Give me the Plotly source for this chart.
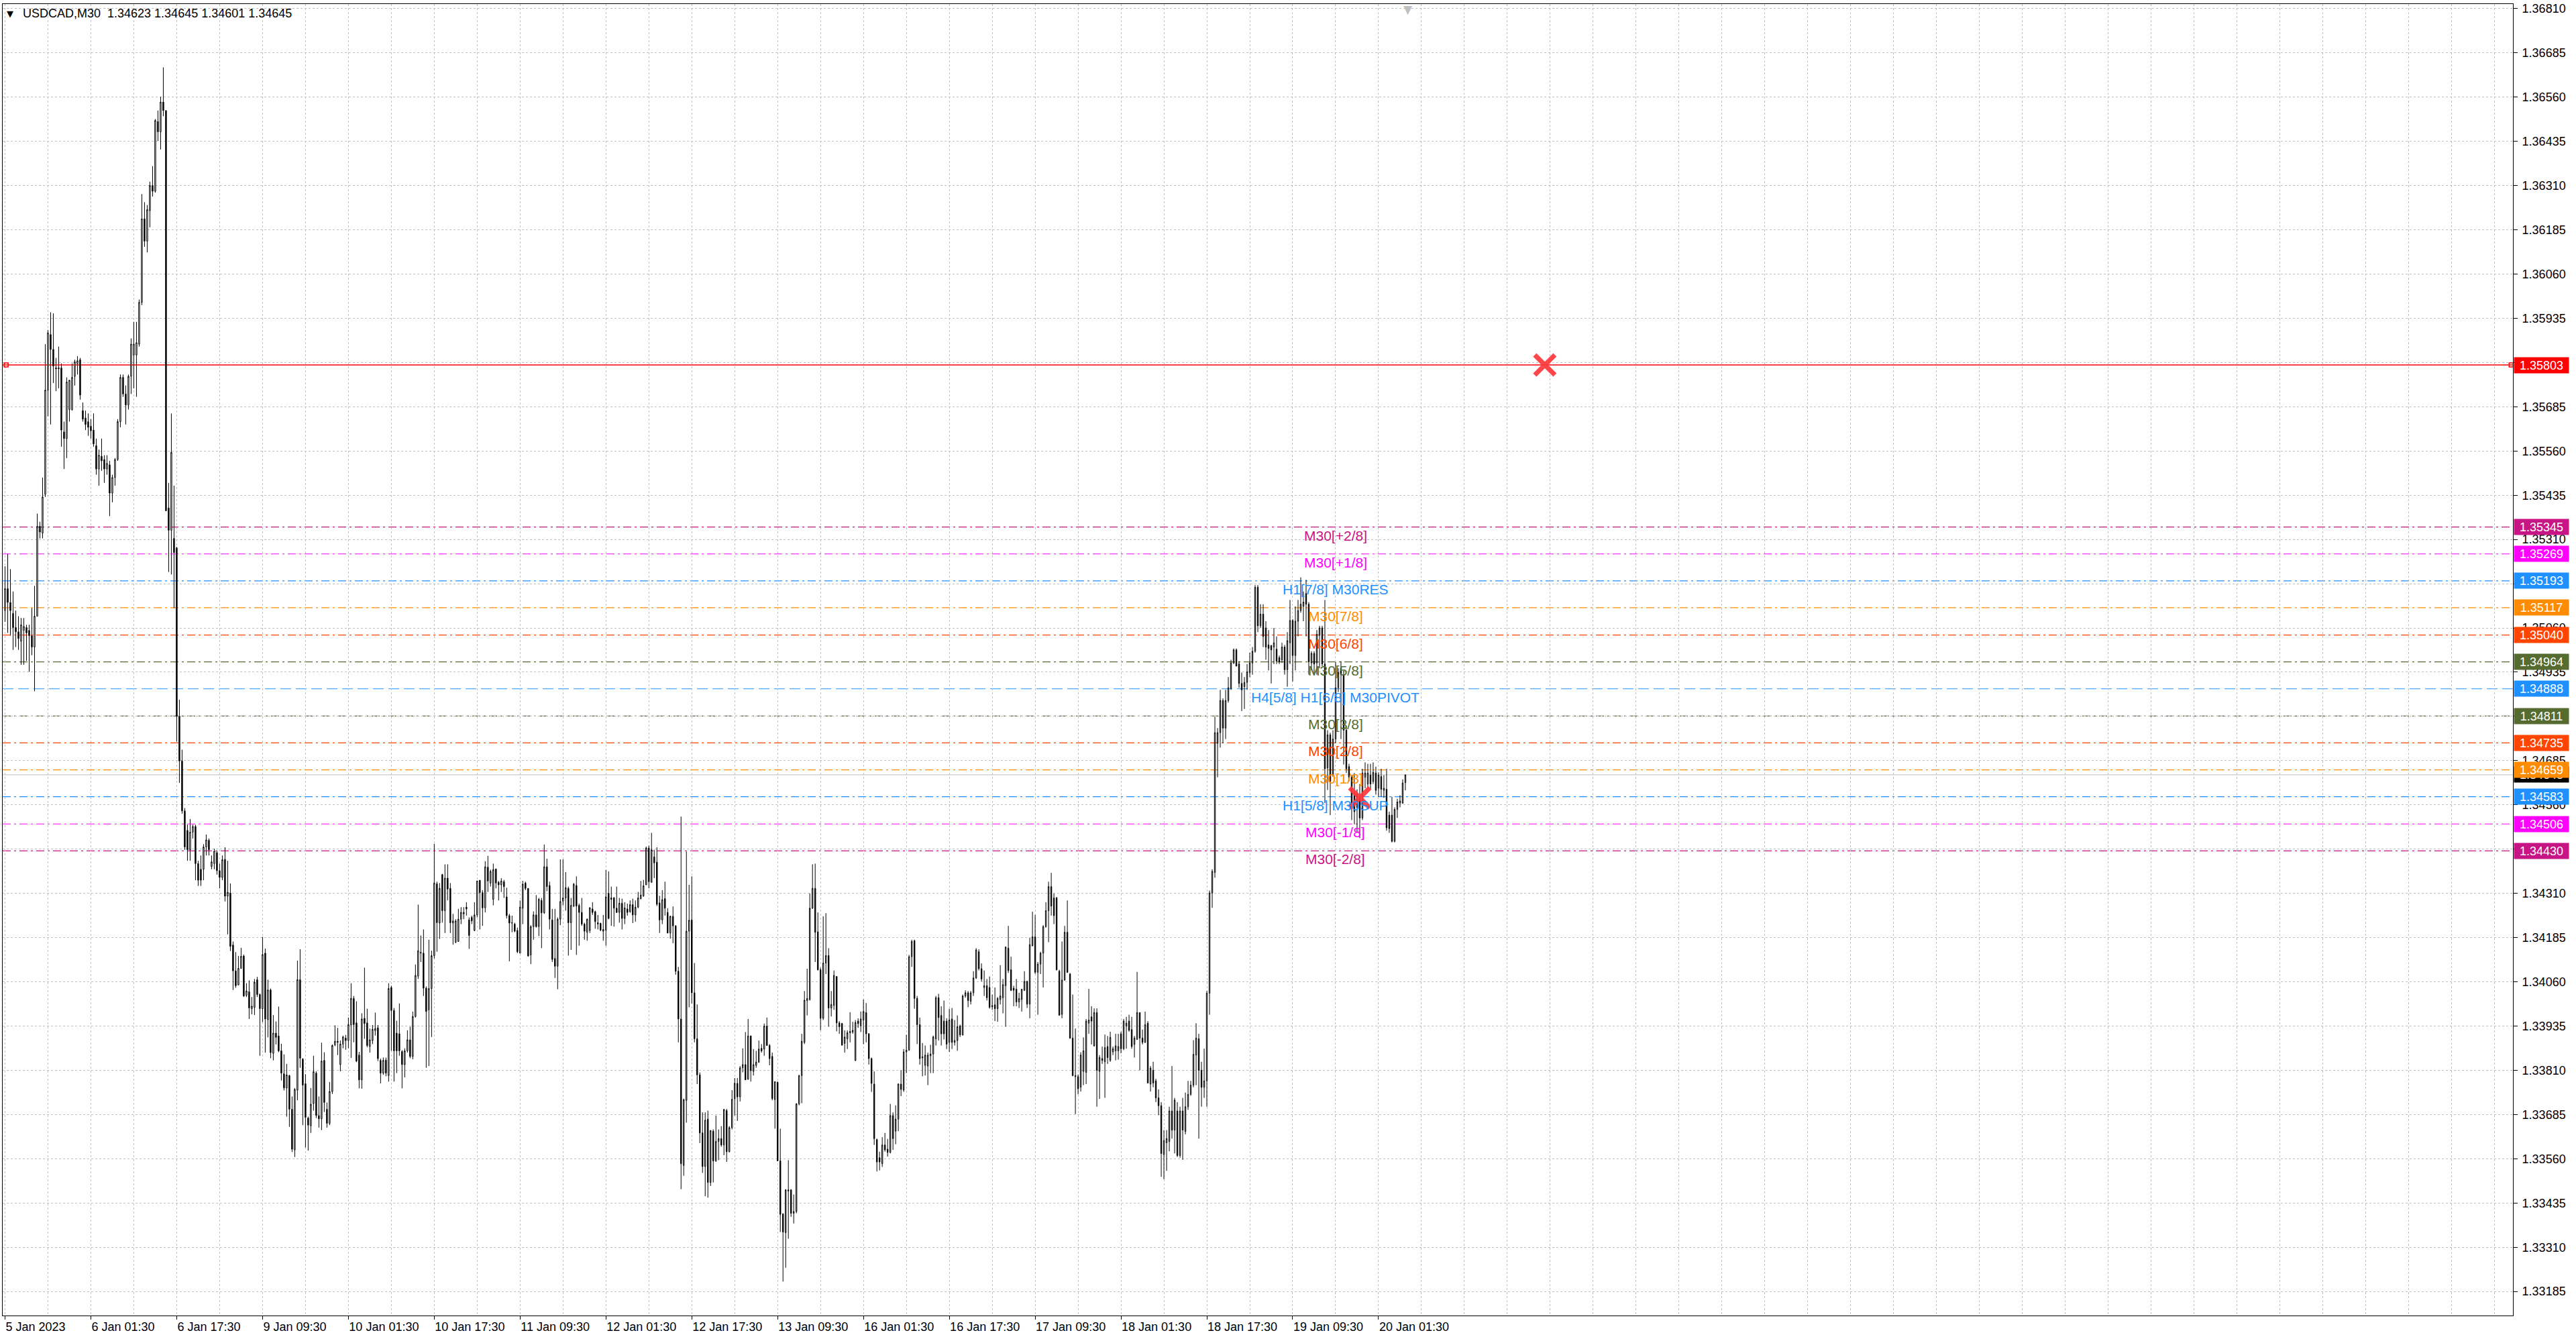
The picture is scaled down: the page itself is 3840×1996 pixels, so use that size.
import plotly.graph_objects as go

# ---------------- data (USDCAD M30) ----------------
open_ = [
1.35109,1.35171,1.35132,1.35101,1.35061,1.35049,1.35022,1.35053,1.35061,1.35053,
1.35038,1.35006,1.35093,1.35347,1.35328,1.35438,1.35732,1.35889,1.35847,1.35795,
1.35795,1.35795,1.35614,1.35595,1.35677,1.35677,1.35771,1.35807,1.35818,1.35674,
1.35653,1.35643,1.35630,1.35619,1.35575,1.35509,1.35545,1.35536,1.35509,1.35521,
1.35441,1.35485,1.35536,1.35643,1.35768,1.35721,1.35690,1.35771,1.35831,1.35831,
1.35862,1.35980,1.36216,1.36153,1.36239,1.36310,1.36294,1.36491,1.36462,1.36546,
1.36522,1.35399,1.35336,1.35313,1.35286,1.34810,1.34684,1.34543,1.34488,1.34433,
1.34483,1.34499,1.34394,1.34378,1.34378,1.34441,1.34460,1.34386,1.34394,1.34425,
1.34374,1.34355,1.34406,1.34302,1.34311,1.34164,1.34091,1.34051,1.34098,1.34133,
1.34022,1.34032,1.33984,1.33988,1.34066,1.34024,1.33984,1.34141,1.33953,1.34037,
1.33858,1.33915,1.33907,1.33865,1.33800,1.33760,1.33795,1.33700,1.33585,1.33754,
1.34066,1.33842,1.33772,1.33675,1.33653,1.33716,1.33802,1.33682,1.33673,1.33838,
1.33700,1.33660,1.33750,1.33882,1.33892,1.33826,1.33884,1.33901,1.33894,1.33938,
1.34013,1.33944,1.33853,1.33783,1.33957,1.33944,1.33877,1.33894,1.33922,1.33930,
1.33838,1.33802,1.33839,1.33795,1.34044,1.33979,1.33915,1.33913,1.33863,1.33826,
1.33865,1.33896,1.33849,1.33962,1.34076,1.34141,1.34141,1.34042,1.33981,1.34041,
1.34134,1.34337,1.34226,1.34363,1.34261,1.34353,1.34324,1.34226,1.34172,1.34174,
1.34237,1.34252,1.34271,1.34235,1.34242,1.34205,1.34249,1.34347,1.34312,1.34269,
1.34384,1.34339,1.34293,1.34379,1.34341,1.34334,1.34343,1.34300,1.34247,1.34227,
1.34223,1.34205,1.34141,1.34268,1.34339,1.34324,1.34136,1.34216,1.34249,1.34216,
1.34290,1.34255,1.34385,1.34332,1.34235,1.34126,1.34104,1.34237,1.34288,1.34297,
1.34324,1.34227,1.34274,1.34332,1.34276,1.34256,1.34223,1.34200,1.34205,1.34266,
1.34258,1.34223,1.34225,1.34203,1.34206,1.34310,1.34297,1.34297,1.34268,1.34256,
1.34282,1.34239,1.34266,1.34258,1.34278,1.34249,1.34271,1.34295,1.34303,1.34334,
1.34438,1.34341,1.34413,1.34398,1.34283,1.34235,1.34295,1.34256,1.34198,1.34245,
1.34218,1.34090,1.33955,1.33541,1.33725,1.34203,1.34235,1.34029,1.33899,1.33797,
1.33633,1.33538,1.33672,1.33493,1.33638,1.33554,1.33609,1.33617,1.33599,1.33696,
1.33580,1.33648,1.33730,1.33773,1.33735,1.33817,1.33826,1.33785,1.33907,1.33807,
1.33824,1.33833,1.33872,1.33870,1.33935,1.33880,1.33849,1.33727,1.33776,1.33554,
1.33404,1.33351,1.33472,1.33472,1.33406,1.33411,1.33715,1.33795,1.33889,1.34007,
1.34010,1.34268,1.34324,1.34201,1.34094,1.33957,1.34113,1.34134,1.33986,1.33993,
1.34075,1.33944,1.33942,1.33886,1.33899,1.33916,1.33918,1.33838,1.33949,1.33936,
1.33952,1.33973,1.33913,1.33843,1.33771,1.33614,1.33563,1.33546,1.33599,1.33587,
1.33578,1.33682,1.33638,1.33672,1.33771,1.33754,1.33862,1.33867,1.34131,1.34176,
1.34013,1.33939,1.33845,1.33824,1.33822,1.33851,1.33856,1.33899,1.34015,1.33965,
1.33949,1.33949,1.33889,1.33955,1.33889,1.33894,1.33935,1.33910,1.34020,1.34029,
1.34005,1.34029,1.34071,1.34145,1.34097,1.34044,1.34049,1.34044,1.33993,1.33995,
1.33984,1.34010,1.34015,1.34049,1.34155,1.34094,1.34042,1.34039,1.34003,1.34010,
1.34036,1.34061,1.33997,1.34162,1.34187,1.34087,1.34110,1.34141,1.34216,1.34261,
1.34329,1.34297,1.34297,1.34090,1.33968,1.34065,1.34200,1.34082,1.33901,1.33792,
1.33792,1.33762,1.33807,1.33804,1.33943,1.33961,1.33879,1.33973,1.33807,1.33843,
1.33834,1.33877,1.33838,1.33862,1.33865,1.33865,1.33913,1.33871,1.33935,1.33949,
1.33925,1.33883,1.33897,1.33973,1.33901,1.33889,1.33943,1.33771,1.33810,1.33780,
1.33732,1.33710,1.33572,1.33605,1.33609,1.33695,1.33641,1.33695,1.33569,1.33695,
1.33637,1.33707,1.33742,1.33768,1.33853,1.33899,1.33810,1.33762,1.33780,1.34028,
1.34311,1.34369,1.34734,1.34764,1.34855,1.34777,1.34855,1.34889,1.34961,1.34998,
1.34958,1.34903,1.34894,1.34906,1.34934,1.34961,1.34994,1.35175,1.35066,1.35099,
1.35060,1.35012,1.35010,1.35006,1.35000,1.34976,1.34970,1.35006,1.34942,1.35018,
1.35081,1.34982,1.35079,1.35109,1.35121,1.35157,1.35127,1.34961,1.34988,1.34961,
1.35039,1.35060,1.34958,1.34664,1.34758,1.34644,1.34746,1.34891,1.34946,1.34928,
1.34771,1.34668,1.34638,1.34595,1.34553,1.34583,1.34523,1.34638,1.34619,1.34644,
1.34626,1.34650,1.34607,1.34640,1.34601,1.34604,1.34531,1.34531,1.34457,1.34547,
1.34565,1.34565,1.34623]

high = [
1.35234,1.35269,1.35226,1.35163,1.35109,1.35093,1.35088,1.35088,1.35069,1.35069,
1.35116,1.35179,1.35383,1.35360,1.35485,1.35862,1.35902,1.35952,1.35949,1.35823,
1.35855,1.35807,1.35643,1.35768,1.35760,1.35807,1.35818,1.35828,1.35823,1.35697,
1.35674,1.35666,1.35650,1.35666,1.35595,1.35564,1.35595,1.35548,1.35548,1.35532,
1.35493,1.35540,1.35650,1.35776,1.35776,1.35745,1.35776,1.35878,1.35925,1.35925,
1.35988,1.36286,1.36263,1.36255,1.36321,1.36365,1.36498,1.36522,1.36561,1.36644,
1.36522,1.35470,1.35666,1.35462,1.35289,1.34857,1.34716,1.34551,1.34504,1.34520,
1.34504,1.34504,1.34402,1.34417,1.34449,1.34476,1.34465,1.34417,1.34436,1.34429,
1.34394,1.34417,1.34440,1.34402,1.34338,1.34174,1.34144,1.34133,1.34156,1.34137,
1.34056,1.34064,1.34017,1.34068,1.34074,1.34027,1.34187,1.34154,1.34066,1.34041,
1.33966,1.33948,1.33990,1.33885,1.33855,1.33828,1.33797,1.33736,1.33760,1.34120,
1.34152,1.33844,1.33799,1.33679,1.33760,1.33851,1.33807,1.33736,1.33888,1.33861,
1.33719,1.33777,1.33883,1.33937,1.33930,1.33894,1.33908,1.33910,1.33959,1.34056,
1.34020,1.34005,1.33862,1.33971,1.34100,1.33984,1.33928,1.33938,1.33973,1.33938,
1.33843,1.33846,1.33846,1.34056,1.34049,1.33986,1.33950,1.33999,1.33867,1.33872,
1.33923,1.33933,1.33976,1.34109,1.34278,1.34191,1.34208,1.34047,1.34179,1.34148,
1.34450,1.34343,1.34339,1.34365,1.34392,1.34392,1.34339,1.34252,1.34237,1.34266,
1.34271,1.34271,1.34285,1.34242,1.34247,1.34285,1.34345,1.34347,1.34319,1.34401,
1.34416,1.34377,1.34394,1.34379,1.34345,1.34353,1.34348,1.34326,1.34252,1.34247,
1.34227,1.34213,1.34290,1.34345,1.34343,1.34324,1.34220,1.34259,1.34305,1.34297,
1.34297,1.34448,1.34408,1.34343,1.34266,1.34266,1.34242,1.34406,1.34406,1.34370,
1.34329,1.34297,1.34339,1.34358,1.34281,1.34297,1.34227,1.34239,1.34271,1.34285,
1.34261,1.34249,1.34227,1.34249,1.34376,1.34372,1.34329,1.34300,1.34329,1.34297,
1.34295,1.34285,1.34281,1.34290,1.34295,1.34290,1.34314,1.34345,1.34348,1.34442,
1.34445,1.34481,1.34433,1.34440,1.34303,1.34319,1.34343,1.34268,1.34247,1.34273,
1.34220,1.34102,1.34527,1.33730,1.34428,1.34334,1.34358,1.34113,1.33996,1.33804,
1.33691,1.33691,1.33696,1.33640,1.33643,1.33682,1.33643,1.33652,1.33701,1.33701,
1.33652,1.33754,1.33788,1.33788,1.33822,1.33872,1.33918,1.33955,1.33908,1.33870,
1.33865,1.33894,1.33884,1.33942,1.33959,1.33884,1.33860,1.33778,1.33778,1.33645,
1.33406,1.33474,1.33556,1.33474,1.33459,1.33717,1.33797,1.33913,1.34034,1.34097,
1.34310,1.34392,1.34394,1.34256,1.34100,1.34245,1.34254,1.34155,1.34034,1.34092,
1.34076,1.33949,1.33944,1.33923,1.33923,1.33974,1.33947,1.33952,1.33957,1.33976,
1.34010,1.34000,1.33915,1.33846,1.33807,1.33617,1.33580,1.33621,1.33633,1.33616,
1.33715,1.33691,1.33711,1.33773,1.33810,1.33870,1.33910,1.34136,1.34179,1.34179,
1.34020,1.33959,1.33887,1.33880,1.33860,1.33882,1.33908,1.34020,1.34026,1.33991,
1.34007,1.33957,1.33984,1.33986,1.33952,1.33965,1.33939,1.34024,1.34036,1.34034,
1.34034,1.34090,1.34155,1.34152,1.34112,1.34092,1.34068,1.34075,1.34024,1.34044,
1.34017,1.34107,1.34068,1.34160,1.34218,1.34131,1.34049,1.34068,1.34029,1.34039,
1.34090,1.34063,1.34184,1.34258,1.34249,1.34116,1.34145,1.34220,1.34285,1.34343,
1.34368,1.34310,1.34300,1.34094,1.34174,1.34218,1.34290,1.34085,1.34024,1.33928,
1.33798,1.33861,1.33903,1.33955,1.34040,1.33991,1.33985,1.33985,1.33853,1.33877,
1.33911,1.33907,1.33919,1.33877,1.33913,1.33913,1.33919,1.33955,1.33961,1.33967,
1.33961,1.33907,1.34088,1.33973,1.33925,1.33976,1.33949,1.33822,1.33834,1.33786,
1.33756,1.33720,1.33641,1.33641,1.33707,1.33822,1.33732,1.33720,1.33707,1.33732,
1.33747,1.33780,1.33780,1.33895,1.33943,1.33913,1.33834,1.33871,1.34034,1.34318,
1.34378,1.34809,1.34777,1.34885,1.34861,1.34885,1.34921,1.34970,1.35002,1.35002,
1.34966,1.34934,1.34921,1.34958,1.34990,1.35006,1.35181,1.35181,1.35127,1.35127,
1.35079,1.35054,1.35012,1.35060,1.35036,1.34982,1.35018,1.35012,1.35048,1.35139,
1.35085,1.35121,1.35139,1.35203,1.35163,1.35196,1.35133,1.34994,1.34994,1.35054,
1.35066,1.35066,1.35139,1.34771,1.34764,1.34771,1.34964,1.34946,1.34966,1.34940,
1.34783,1.34676,1.34644,1.34650,1.34604,1.34619,1.34662,1.34680,1.34676,1.34676,
1.34680,1.34668,1.34652,1.34662,1.34644,1.34662,1.34541,1.34583,1.34553,1.34577,
1.34587,1.34632,1.34645]

low = [
1.35077,1.35046,1.35038,1.34998,1.35006,1.34998,1.34956,1.34956,1.34967,1.34936,
1.34983,1.34881,1.35093,1.35313,1.35313,1.35430,1.35658,1.35635,1.35752,1.35729,
1.35737,1.35572,1.35509,1.35540,1.35643,1.35674,1.35745,1.35776,1.35705,1.35643,
1.35619,1.35603,1.35595,1.35572,1.35493,1.35462,1.35504,1.35470,1.35493,1.35376,
1.35415,1.35462,1.35532,1.35627,1.35713,1.35635,1.35677,1.35721,1.35737,1.35713,
1.35855,1.35972,1.36137,1.36121,1.36192,1.36279,1.36290,1.36436,1.36412,1.36506,
1.35391,1.35218,1.35211,1.35116,1.34739,1.34622,1.34535,1.34433,1.34402,1.34402,
1.34465,1.34347,1.34331,1.34331,1.34347,1.34417,1.34417,1.34378,1.34378,1.34363,
1.34324,1.34347,1.34287,1.34194,1.34147,1.34037,1.34043,1.34051,1.34098,1.34017,
1.34017,1.33955,1.33968,1.33966,1.34017,1.33851,1.33946,1.33860,1.33903,1.33844,
1.33838,1.33883,1.33861,1.33781,1.33753,1.33679,1.33650,1.33579,1.33565,1.33725,
1.33817,1.33655,1.33592,1.33583,1.33633,1.33696,1.33675,1.33648,1.33641,1.33692,
1.33648,1.33655,1.33743,1.33878,1.33853,1.33807,1.33872,1.33868,1.33872,1.33845,
1.33889,1.33833,1.33759,1.33758,1.33899,1.33875,1.33860,1.33884,1.33908,1.33836,
1.33773,1.33797,1.33793,1.33778,1.33865,1.33778,1.33802,1.33851,1.33759,1.33790,
1.33860,1.33844,1.33841,1.33959,1.34068,1.34116,1.34020,1.33817,1.33822,1.33904,
1.34126,1.34145,1.34181,1.34227,1.34198,1.34290,1.34198,1.34165,1.34169,1.34174,
1.34223,1.34237,1.34247,1.34153,1.34223,1.34203,1.34242,1.34208,1.34218,1.34256,
1.34314,1.34329,1.34276,1.34324,1.34290,1.34314,1.34297,1.34239,1.34118,1.34200,
1.34200,1.34141,1.34141,1.34223,1.34319,1.34131,1.34110,1.34179,1.34213,1.34189,
1.34155,1.34252,1.34316,1.34208,1.34116,1.34071,1.34039,1.34220,1.34276,1.34261,
1.34134,1.34150,1.34271,1.34136,1.34162,1.34218,1.34179,1.34176,1.34198,1.34249,
1.34210,1.34208,1.34203,1.34176,1.34162,1.34237,1.34218,1.34216,1.34255,1.34227,
1.34208,1.34223,1.34247,1.34255,1.34226,1.34230,1.34268,1.34293,1.34300,1.34334,
1.34324,1.34341,1.34353,1.34274,1.34198,1.34223,1.34247,1.34197,1.34182,1.34169,
1.34080,1.33889,1.33474,1.33512,1.33662,1.33988,1.33999,1.33889,1.33771,1.33604,
1.33520,1.33454,1.33450,1.33483,1.33493,1.33551,1.33556,1.33594,1.33570,1.33551,
1.33578,1.33643,1.33682,1.33667,1.33722,1.33804,1.33783,1.33783,1.33778,1.33795,
1.33817,1.33831,1.33860,1.33851,1.33880,1.33824,1.33725,1.33645,1.33553,1.33353,
1.33213,1.33252,1.33334,1.33396,1.33377,1.33406,1.33711,1.33717,1.33884,1.33965,
1.34007,1.34266,1.34116,1.34092,1.33923,1.33952,1.34082,1.33933,1.33962,1.33981,
1.33920,1.33913,1.33880,1.33860,1.33870,1.33889,1.33913,1.33836,1.33930,1.33918,
1.33884,1.33889,1.33826,1.33749,1.33599,1.33524,1.33527,1.33537,1.33580,1.33566,
1.33575,1.33585,1.33601,1.33638,1.33737,1.33749,1.33802,1.33865,1.34102,1.33984,
1.33884,1.33826,1.33793,1.33795,1.33768,1.33802,1.33802,1.33880,1.33894,1.33880,
1.33897,1.33870,1.33862,1.33870,1.33880,1.33865,1.33904,1.33908,1.34015,1.33988,
1.33996,1.34020,1.34068,1.34092,1.34061,1.34020,1.34007,1.33984,1.33981,1.33949,
1.33947,1.33996,1.33971,1.33933,1.34085,1.34034,1.33991,1.33991,1.33986,1.33976,
1.34034,1.33986,1.33957,1.34160,1.34082,1.33967,1.34082,1.34044,1.34213,1.34172,
1.34247,1.34223,1.34092,1.33964,1.33957,1.34063,1.34085,1.33899,1.33793,1.33686,
1.33742,1.33750,1.33768,1.33771,1.33913,1.33883,1.33877,1.33707,1.33729,1.33828,
1.33732,1.33828,1.33834,1.33853,1.33838,1.33840,1.33858,1.33867,1.33871,1.33919,
1.33871,1.33846,1.33897,1.33810,1.33883,1.33887,1.33774,1.33750,1.33762,1.33720,
1.33683,1.33509,1.33502,1.33526,1.33581,1.33617,1.33575,1.33565,1.33563,1.33557,
1.33629,1.33698,1.33738,1.33762,1.33768,1.33617,1.33707,1.33732,1.33707,1.33967,
1.34269,1.34354,1.34638,1.34722,1.34734,1.34746,1.34849,1.34885,1.34958,1.34952,
1.34891,1.34825,1.34831,1.34885,1.34921,1.34928,1.34990,1.35048,1.35060,1.35006,
1.34970,1.34940,1.34903,1.34958,1.34958,1.34958,1.34961,1.34928,1.34894,1.34958,
1.34909,1.34940,1.35036,1.35103,1.35079,1.35036,1.34928,1.34940,1.34928,1.34928,
1.34946,1.34952,1.34565,1.34602,1.34531,1.34640,1.34734,1.34879,1.34746,1.34674,
1.34650,1.34626,1.34517,1.34505,1.34481,1.34466,1.34517,1.34607,1.34604,1.34604,
1.34619,1.34589,1.34583,1.34583,1.34580,1.34487,1.34481,1.34454,1.34454,1.34523,
1.34553,1.34563,1.34601]

close_ = [
1.35171,1.35132,1.35109,1.35061,1.35049,1.35030,1.35069,1.35064,1.35046,1.35038,
1.35006,1.35093,1.35347,1.35331,1.35430,1.35732,1.35894,1.35847,1.35800,1.35792,
1.35792,1.35619,1.35595,1.35755,1.35760,1.35768,1.35812,1.35815,1.35718,1.35650,
1.35635,1.35627,1.35617,1.35580,1.35509,1.35548,1.35532,1.35509,1.35525,1.35441,
1.35485,1.35536,1.35643,1.35768,1.35721,1.35690,1.35771,1.35862,1.35862,1.35866,
1.35980,1.36216,1.36153,1.36242,1.36310,1.36294,1.36494,1.36462,1.36546,1.36522,
1.35391,1.35336,1.35556,1.35273,1.34810,1.34684,1.34543,1.34441,1.34433,1.34483,
1.34499,1.34394,1.34347,1.34347,1.34441,1.34461,1.34433,1.34399,1.34429,1.34374,
1.34355,1.34405,1.34302,1.34313,1.34160,1.34091,1.34049,1.34098,1.34132,1.34020,
1.34034,1.33986,1.33991,1.34059,1.34024,1.33984,1.34137,1.33955,1.34037,1.33860,
1.33915,1.33903,1.33865,1.33802,1.33760,1.33797,1.33700,1.33587,1.33756,1.34066,
1.33844,1.33768,1.33677,1.33655,1.33714,1.33806,1.33682,1.33673,1.33836,1.33719,
1.33660,1.33750,1.33880,1.33892,1.33889,1.33884,1.33904,1.33894,1.33939,1.34013,
1.33939,1.33836,1.33783,1.33955,1.33942,1.33880,1.33896,1.33926,1.33928,1.33843,
1.33802,1.33838,1.33802,1.34041,1.33979,1.33865,1.33865,1.33865,1.33826,1.33865,
1.33896,1.33849,1.33962,1.34078,1.34148,1.34143,1.34042,1.33976,1.34041,1.34134,
1.34339,1.34227,1.34324,1.34261,1.34353,1.34322,1.34227,1.34232,1.34232,1.34237,
1.34256,1.34256,1.34266,1.34191,1.34232,1.34249,1.34345,1.34312,1.34269,1.34385,
1.34345,1.34372,1.34377,1.34339,1.34334,1.34345,1.34329,1.34247,1.34226,1.34226,
1.34203,1.34145,1.34271,1.34336,1.34324,1.34133,1.34216,1.34249,1.34216,1.34293,
1.34255,1.34385,1.34329,1.34237,1.34123,1.34104,1.34237,1.34287,1.34297,1.34326,
1.34227,1.34276,1.34336,1.34274,1.34256,1.34223,1.34203,1.34237,1.34269,1.34256,
1.34230,1.34227,1.34206,1.34208,1.34300,1.34239,1.34293,1.34268,1.34256,1.34282,
1.34239,1.34269,1.34256,1.34278,1.34249,1.34271,1.34297,1.34305,1.34331,1.34438,
1.34343,1.34433,1.34396,1.34279,1.34235,1.34292,1.34268,1.34198,1.34245,1.34218,
1.34090,1.33955,1.33546,1.33727,1.34203,1.34234,1.34029,1.33899,1.33797,1.33633,
1.33538,1.33669,1.33493,1.33640,1.33554,1.33609,1.33617,1.33599,1.33699,1.33580,
1.33648,1.33728,1.33773,1.33735,1.33817,1.33826,1.33783,1.33907,1.33809,1.33826,
1.33833,1.33870,1.33865,1.33935,1.33880,1.33843,1.33730,1.33778,1.33554,1.33403,
1.33353,1.33472,1.33469,1.33406,1.33411,1.33715,1.33795,1.33892,1.34008,1.34013,
1.34268,1.34324,1.34200,1.34094,1.33957,1.34113,1.34134,1.33986,1.33996,1.34078,
1.33944,1.33933,1.33881,1.33904,1.33916,1.33920,1.33923,1.33945,1.33942,1.33955,
1.33976,1.33913,1.33843,1.33773,1.33617,1.33551,1.33551,1.33599,1.33585,1.33578,
1.33682,1.33617,1.33672,1.33771,1.33756,1.33862,1.33867,1.34131,1.34174,1.34013,
1.33939,1.33843,1.33848,1.33853,1.33853,1.33856,1.33904,1.34015,1.33959,1.33913,
1.33913,1.33884,1.33952,1.33889,1.33894,1.33933,1.33910,1.34020,1.34029,1.34007,
1.34029,1.34071,1.34150,1.34097,1.34068,1.34049,1.34015,1.33988,1.33990,1.33984,
1.34013,1.34020,1.34052,1.34158,1.34092,1.34036,1.34036,1.34003,1.34013,1.34039,
1.34061,1.33997,1.34165,1.34187,1.34087,1.34110,1.34141,1.34216,1.34261,1.34329,
1.34274,1.34247,1.34094,1.33966,1.34065,1.34200,1.34087,1.33901,1.33795,1.33795,
1.33758,1.33853,1.33865,1.33949,1.33952,1.33949,1.33973,1.33810,1.33846,1.33838,
1.33874,1.33846,1.33903,1.33871,1.33879,1.33877,1.33871,1.33949,1.33943,1.33923,
1.33877,1.33901,1.33973,1.33901,1.33889,1.33939,1.33774,1.33816,1.33774,1.33732,
1.33710,1.33575,1.33611,1.33617,1.33695,1.33641,1.33726,1.33569,1.33695,1.33641,
1.33707,1.33742,1.33768,1.33855,1.33901,1.33810,1.33762,1.33780,1.34028,1.34311,
1.34372,1.34764,1.34764,1.34855,1.34777,1.34855,1.34891,1.34961,1.34998,1.34952,
1.34903,1.34885,1.34906,1.34936,1.34961,1.34994,1.35175,1.35066,1.35099,1.35036,
1.35006,1.35002,1.34998,1.35018,1.34966,1.34964,1.35006,1.34942,1.35024,1.35081,
1.34982,1.35079,1.35109,1.35127,1.35133,1.35127,1.34964,1.34988,1.34958,1.35042,
1.35060,1.34958,1.34662,1.34758,1.34626,1.34746,1.34891,1.34934,1.34928,1.34771,
1.34662,1.34638,1.34565,1.34541,1.34589,1.34523,1.34650,1.34650,1.34650,1.34619,
1.34652,1.34601,1.34644,1.34604,1.34607,1.34495,1.34493,1.34457,1.34547,1.34568,
1.34571,1.34622,1.34645]

time_labels = ["5 Jan 2023", "6 Jan 01:30", "6 Jan 17:30", "9 Jan 09:30", "10 Jan 01:30",
               "10 Jan 17:30", "11 Jan 09:30", "12 Jan 01:30", "12 Jan 17:30", "13 Jan 09:30",
               "16 Jan 01:30", "16 Jan 17:30", "17 Jan 09:30", "18 Jan 01:30", "18 Jan 17:30",
               "19 Jan 09:30", "20 Jan 01:30"]
time_label_bars = [0, 32, 64, 96, 128, 160, 192, 224, 256, 288, 320, 352, 384, 416, 448, 480, 512]

price_ticks = [1.33185, 1.33310, 1.33435, 1.33560, 1.33685, 1.33810, 1.33935, 1.34060,
               1.34185, 1.34310, 1.34435, 1.34560, 1.34685, 1.34810, 1.34935, 1.35060,
               1.35185, 1.35310, 1.35435, 1.35560, 1.35685, 1.35810, 1.35935, 1.36060,
               1.36185, 1.36310, 1.36435, 1.36560, 1.36685, 1.36810]

level_prices = [1.35345, 1.35269, 1.35193, 1.35117, 1.35040, 1.34964, 1.34888,
                1.34811, 1.34735, 1.34659, 1.34583, 1.34506, 1.34430]
level_names = ["M30[+2/8]", "M30[+1/8]", "H1[7/8] M30RES", "M30[7/8]", "M30[6/8]",
               "M30[5/8]", "H4[5/8] H1[6/8] M30PIVOT", "M30[3/8]", "M30[2/8]",
               "M30[1/8]", "H1[5/8] M30SUP", "M30[-1/8]", "M30[-2/8]"]
level_colors = ["#C71585", "#FF00FF", "#1E90FF", "#FF8C00", "#FF4500", "#556B2F",
                "#1E90FF", "#556B2F", "#FF4500", "#FF8C00", "#1E90FF", "#FF00FF", "#C71585"]
level_styles = ["dashdot", "dashdot", "dashdot", "dashdot", "dashdot", "dashdot", "dash",
                "dashdot", "dashdot", "dashdot", "dashdot", "dashdot", "dashdot"]

red_line_price = 1.35803
bid_price = 1.34645
cross_bars = [574, 505]
cross_prices = [1.35803, 1.34580]
shift_bar = 523
level_label_bar = 496
title_text = "USDCAD,M30\u00a0 1.34623 1.34645 1.34601 1.34645"

assert len(open_) == len(high) == len(low) == len(close_)

# ---------------- figure ----------------
FONT = "Liberation Sans"
bars = list(range(len(close_)))

fig = go.Figure()
fig.add_trace(go.Candlestick(
    x=bars, open=open_, high=high, low=low, close=close_,
    increasing=dict(line=dict(color="black", width=1), fillcolor="white"),
    decreasing=dict(line=dict(color="black", width=1), fillcolor="black"),
    whiskerwidth=0, hoverinfo="skip", showlegend=False))

# anchors of the red horizontal line
fig.add_trace(go.Scatter(
    x=[0.4, 934.2], y=[red_line_price, red_line_price], mode="markers",
    marker=dict(symbol="square-open", size=6, color="#FF0000", line=dict(width=1.5)),
    cliponaxis=False, hoverinfo="skip", showlegend=False))

# red crosses
fig.add_trace(go.Scatter(
    x=cross_bars, y=cross_prices, mode="markers",
    marker=dict(symbol="x-thin", size=30, line=dict(width=7, color="rgba(255,55,60,0.92)")),
    hoverinfo="skip", showlegend=False))

dash_map = {"dashdot": "12px,5px,3px,5px", "dash": "16px,7px"}
shapes = []
for p, c, s in zip(level_prices, level_colors, level_styles):
    shapes.append(dict(type="line", xref="paper", x0=0, x1=1, yref="y", y0=p, y1=p,
                       line=dict(color=c, width=1.2, dash=dash_map[s]), layer="below"))
shapes.append(dict(type="line", xref="paper", x0=0, x1=1, yref="y", y0=red_line_price,
                   y1=red_line_price, line=dict(color="#FF0000", width=1.5), layer="below"))
shapes.append(dict(type="line", xref="paper", x0=0, x1=1, yref="y", y0=bid_price,
                   y1=bid_price, line=dict(color="#C0C0C0", width=1), layer="below"))

annotations = []
# level names (text under each line)
for p, n, c in zip(level_prices, level_names, level_colors):
    annotations.append(dict(x=level_label_bar, y=p, xref="x", yref="y", text=n,
                            showarrow=False, xanchor="center", yanchor="top", yshift=1,
                            font=dict(family=FONT, size=21, color=c)))

# price boxes on the right axis
def price_box(p, color):
    return dict(x=1, y=p, xref="paper", yref="y", text=f"{p:.5f}", showarrow=False,
                xanchor="left", yanchor="middle", xshift=1, width=79, height=21,
                borderpad=1, bgcolor=color, align="center",
                font=dict(family=FONT, size=18, color="white"))

annotations.append(price_box(bid_price, "#000000"))
for p, c in zip(level_prices, level_colors):
    annotations.append(price_box(p, c))
annotations.append(price_box(red_line_price, "#FF0000"))

# title in the corner
annotations.append(dict(x=0, y=1, xref="paper", yref="paper", text="\u25BC", showarrow=False,
                        xanchor="left", yanchor="middle", xshift=4, yshift=-14,
                        font=dict(family="DejaVu Sans", size=13, color="black")))
annotations.append(dict(x=0, y=1, xref="paper", yref="paper", text=title_text, showarrow=False,
                        xanchor="left", yanchor="middle", xshift=28, yshift=-14,
                        font=dict(family=FONT, size=18, color="black")))
# chart shift marker
annotations.append(dict(x=shift_bar, y=1, xref="x", yref="paper", text="\u25BC", showarrow=False,
                        xanchor="center", yanchor="top", yshift=4,
                        font=dict(family="DejaVu Sans", size=17, color="#C0C0C0")))

fig.update_layout(
    width=3840, height=1996,
    margin=dict(l=3, r=94, t=4, b=35),
    paper_bgcolor="white", plot_bgcolor="white",
    showlegend=False, hovermode=False, boxgap=0.5,
    shapes=shapes, annotations=annotations,
    xaxis=dict(
        range=[-0.875, 934.875], rangeslider=dict(visible=False),
        tickmode="array", tickvals=time_label_bars, ticktext=time_labels,
        ticklabelposition="outside right", ticks="outside", ticklen=5, tickcolor="black",
        showgrid=True, gridcolor="#C0C0C0", griddash="3px,3px", gridwidth=1,
        minor=dict(tick0=0, dtick=16, showgrid=True, gridcolor="#C0C0C0",
                   griddash="3px,3px", gridwidth=1, ticks=""),
        showline=True, linecolor="black", linewidth=1, mirror=True, zeroline=False,
        tickfont=dict(family=FONT, size=18, color="black")),
    yaxis=dict(
        side="right", range=[1.33117, 1.36823],
        tickmode="array", tickvals=price_ticks, tickformat=".5f",
        ticks="outside", ticklen=6, tickcolor="black", ticklabelstandoff=3,
        showgrid=True, gridcolor="#C0C0C0", griddash="3px,3px", gridwidth=1,
        showline=True, linecolor="black", linewidth=1, mirror=True, zeroline=False,
        tickfont=dict(family=FONT, size=18, color="black")),
)

fig.write_html("out.html", config={"displayModeBar": False},
               post_script="document.body.style.margin='0';document.body.style.overflow='hidden';")
